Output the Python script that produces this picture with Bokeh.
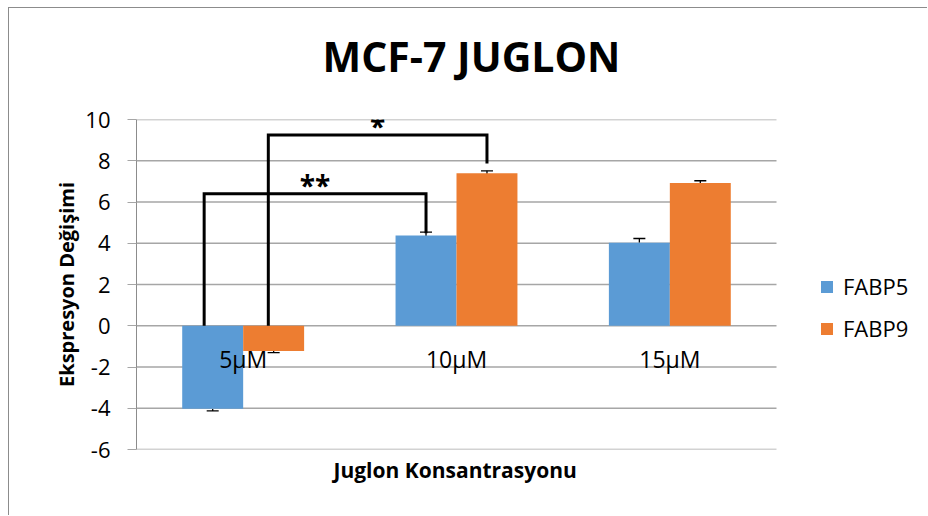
from bokeh.plotting import figure
from bokeh.models import (Range1d, FixedTicker, ColumnDataSource, Whisker, TeeHead,
                          Legend, LegendItem, Title)
from bokeh.core.properties import value
from bokeh.embed import file_html
from bokeh.resources import INLINE

# ---------------- data ----------------
categories = ["5µM", "10µM", "15µM"]
series_names = ["FABP5", "FABP9"]
fabp5 = [-4.02, 4.38, 4.02]
fabp9 = [-1.22, 7.39, 6.92]
fabp5_err = [0.11, 0.16, 0.21]
fabp9_err = [0.08, 0.12, 0.11]
y_ticks = [-6, -4, -2, 0, 2, 4, 6, 8, 10]
y_tick_labels = ["-6", "-4", "-2", "0", "2", "4", "6", "8", "10"]

# significance brackets
sig_from_cat = [0, 0]
sig_to_cat = [1, 1]
sig_series = [0, 1]          # index into series_names
sig_top = [6.4, 9.25]
sig_right_end = [4.48, 7.87]
sig_labels = ["**", "*"]

# ---------------- style / layout ----------------
FONT = "Open Sans"
BLUE = "#5B9BD5"
ORANGE = "#ED7D31"
GRID = "#A6A6A6"
colors = [BLUE, ORANGE]
bar_w = 1.0 / (2 + 1.5)          # Excel gap width 150 %
offsets = [-bar_w / 2, bar_w / 2]
left_leg_shift = [-0.04, -0.025]

W, H = 919, 508
LEFT, TOP, BOTTOM = 127, 111, 67
CAT_PX = 640 / 3                 # pixels per category (plot area of the bars)
frame_w = W - LEFT
x_end = frame_w / CAT_PX

p = figure(width=W, height=H, x_range=Range1d(0, x_end), y_range=Range1d(-6, 10),
           output_backend="svg", toolbar_location=None, title=None,
           min_border_left=LEFT, min_border_right=0, min_border_top=TOP,
           min_border_bottom=BOTTOM)
p.outline_line_color = None
p.background_fill_color = "white"
p.border_fill_color = "white"
p.styles = {"margin-left": "8px", "margin-top": "7px",
            "border-left": "1px solid #8C8C8C", "border-top": "1px solid #8C8C8C",
            "border-right": "none", "border-bottom": "none",
            "box-shadow": "none", "outline": "none"}

# spacer between plot area and title, then the title itself
p.add_layout(Title(text=" ", text_font_size="1px", standoff=33), "above")
p.add_layout(Title(text="MCF-7 JUGLON", align="left", offset=186, standoff=0,
                   text_font=FONT, text_font_style="bold", text_font_size="41px",
                   text_color="black"), "above")

# grid / axes
p.xgrid.visible = False
p.ygrid.visible = False
p.segment(x0=0, x1=len(categories), y0=y_ticks, y1=y_ticks,
          line_color=GRID, line_width=1.3)

p.yaxis.ticker = FixedTicker(ticks=y_ticks)
p.yaxis.major_label_overrides = {t: l for t, l in zip(y_ticks, y_tick_labels)}
p.yaxis.axis_line_color = "#8C8C8C"
p.yaxis.major_tick_line_color = GRID
p.yaxis.major_tick_out = 9
p.yaxis.major_tick_in = 0
p.yaxis.minor_tick_line_color = None
p.yaxis.major_label_standoff = 17
p.yaxis.major_label_text_font = FONT
p.yaxis.major_label_text_font_size = "22px"
p.yaxis.major_label_text_color = "black"
p.yaxis.axis_label = "Ekspresyon Değişimi"
p.yaxis.axis_label_text_font = FONT
p.yaxis.axis_label_text_font_style = "bold"
p.yaxis.axis_label_text_font_size = "20px"
p.yaxis.axis_label_text_color = "black"
p.yaxis.axis_label_standoff = 2

p.xaxis.visible = False
xlab = Title(text="Juglon Konsantrasyonu", align="left", offset=197, standoff=9,
             text_font=FONT, text_font_style="bold", text_font_size="21px",
             text_color="black")
p.add_layout(xlab, "below")

centers = [i + 0.5 for i in range(len(categories))]
all_vals = [fabp5, fabp9]
all_errs = [fabp5_err, fabp9_err]

renderers = []
for s, (vals, errs) in enumerate(zip(all_vals, all_errs)):
    xs = [c + offsets[s] for c in centers]
    src = ColumnDataSource(dict(x=xs, top=vals,
                                upper=[v + e for v, e in zip(vals, errs)],
                                lower=[v - e for v, e in zip(vals, errs)]))
    r = p.vbar(x="x", top="top", bottom=0, width=bar_w, source=src,
               fill_color=colors[s], line_color=None)
    renderers.append(r)
    w = Whisker(base="x", upper="upper", lower="lower", source=src,
                line_color="black", line_width=1.3,
                upper_head=TeeHead(size=12, line_color="black", line_width=1.3),
                lower_head=TeeHead(size=12, line_color="black", line_width=1.3))
    p.add_layout(w)

# category labels (Excel draws them next to the zero axis)
p.text(x=centers, y=[-1.62] * len(categories), text=categories,
       text_font=value(FONT), text_font_size="23px", text_color="black",
       text_align="center", text_baseline="middle")

# significance brackets
b_xs, b_ys, lab_x = [], [], []
for k in range(len(sig_labels)):
    s = sig_series[k]
    xl = centers[sig_from_cat[k]] + offsets[s] + left_leg_shift[k]
    xr = centers[sig_to_cat[k]] + offsets[s]
    b_xs.append([xl, xl, xr, xr])
    b_ys.append([0, sig_top[k], sig_top[k], sig_right_end[k]])
    lab_x.append((xl + xr) / 2)
p.multi_line(xs=b_xs, ys=b_ys, line_color="black", line_width=3, line_join="miter")
p.text(x=lab_x, y=sig_top, text=sig_labels, text_font=value(FONT),
       text_font_size="28px", text_font_style="bold", text_color="black",
       text_align="center", text_baseline="alphabetic", y_offset=-9)

legend = Legend(items=[LegendItem(label=n, renderers=[r]) for n, r in zip(series_names, renderers)],
                location=(683, 106), orientation="vertical",
                glyph_width=15, glyph_height=15, label_standoff=9,
                label_text_font=FONT, label_text_font_size="22px",
                label_text_color="black", spacing=12, padding=0, margin=0,
                border_line_color=None, background_fill_alpha=0)
p.add_layout(legend)

open("out.html", "w").write(file_html(p, INLINE))
